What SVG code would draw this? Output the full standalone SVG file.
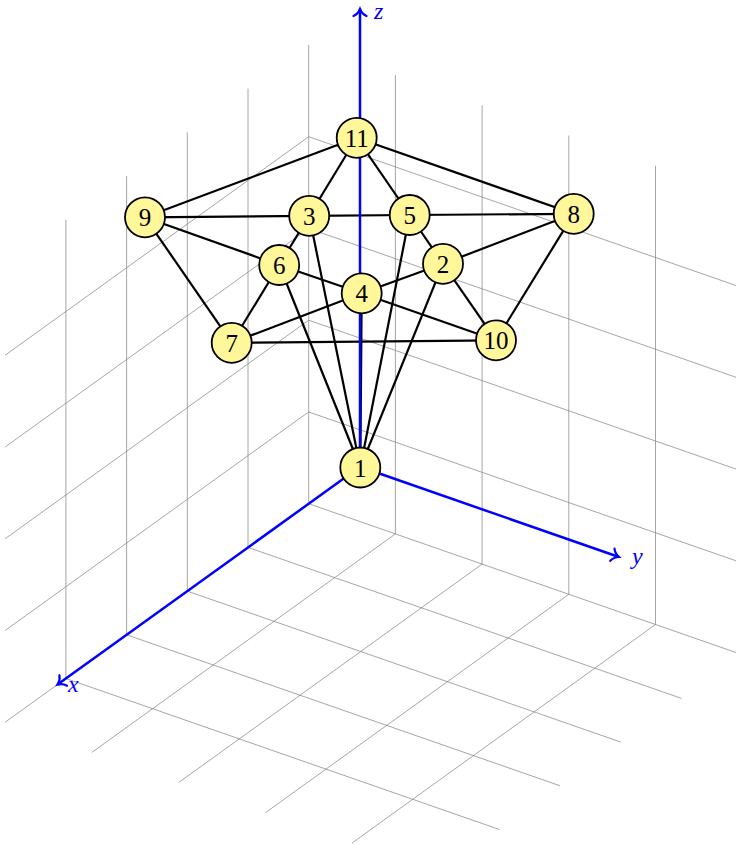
<svg xmlns="http://www.w3.org/2000/svg" width="736" height="845" viewBox="0 0 736 845">
<style>
.grid line{stroke:#808080;stroke-opacity:0.7;stroke-width:1;fill:none}
.edge{stroke:#000;stroke-width:2.2;fill:none}
.axis{stroke:#0000ff;stroke-width:2.5;fill:none;marker-end:url(#arr)}
.node circle{fill:#fff799;stroke:#000;stroke-width:1.8}
.node text{font-family:"Liberation Serif","DejaVu Serif",serif;font-size:25px;text-anchor:middle;fill:#000}
.lbl{font-family:"Liberation Serif","DejaVu Serif",serif;font-style:italic;font-size:24px;fill:#0000ff}
</style>
<defs>
<marker id="arr" markerUnits="userSpaceOnUse" markerWidth="20" markerHeight="20" viewBox="-10 -10 20 20" refX="0" refY="0" orient="auto" overflow="visible">
<path d="M-7,-6.5 C-5.5,-3 -2.5,-1 0,0 C-2.5,1 -5.5,3 -7,6.5" fill="none" stroke="#0000ff" stroke-width="2.2" stroke-linecap="round"/>
</marker>
</defs>
<rect width="736" height="845" fill="#fff"/>
<g id="grid" class="grid">
<line x1="308.7" y1="503.7" x2="742.2" y2="654.7"/>
<line x1="248" y1="547.4" x2="681.5" y2="698.4"/>
<line x1="187.3" y1="591.1" x2="620.8" y2="742.1"/>
<line x1="126.6" y1="634.8" x2="560.1" y2="785.8"/>
<line x1="65.9" y1="678.5" x2="499.4" y2="829.5"/>
<line x1="308.7" y1="503.7" x2="5.2" y2="722.2"/>
<line x1="395.4" y1="533.9" x2="91.9" y2="752.4"/>
<line x1="482.1" y1="564.1" x2="178.6" y2="782.6"/>
<line x1="568.8" y1="594.3" x2="265.3" y2="812.8"/>
<line x1="655.5" y1="624.5" x2="352" y2="843"/>
<line x1="308.7" y1="503.7" x2="308.7" y2="44.95"/>
<line x1="248" y1="547.4" x2="248" y2="88.65"/>
<line x1="187.3" y1="591.1" x2="187.3" y2="132.35"/>
<line x1="126.6" y1="634.8" x2="126.6" y2="176.05"/>
<line x1="65.9" y1="678.5" x2="65.9" y2="219.75"/>
<line x1="308.7" y1="411.95" x2="5.2" y2="630.45"/>
<line x1="308.7" y1="320.2" x2="5.2" y2="538.7"/>
<line x1="308.7" y1="228.45" x2="5.2" y2="446.95"/>
<line x1="308.7" y1="136.7" x2="5.2" y2="355.2"/>
<line x1="395.4" y1="533.9" x2="395.4" y2="75.15"/>
<line x1="482.1" y1="564.1" x2="482.1" y2="105.35"/>
<line x1="568.8" y1="594.3" x2="568.8" y2="135.55"/>
<line x1="655.5" y1="624.5" x2="655.5" y2="165.75"/>
<line x1="308.7" y1="411.95" x2="742.2" y2="562.95"/>
<line x1="308.7" y1="320.2" x2="742.2" y2="471.2"/>
<line x1="308.7" y1="228.45" x2="742.2" y2="379.45"/>
<line x1="308.7" y1="136.7" x2="742.2" y2="287.7"/>
</g>
<g id="connectors">
<line class="edge" x1="356.7" y1="137.8" x2="145" y2="217.3"/>
<line class="edge" x1="356.7" y1="137.8" x2="309.2" y2="215.8"/>
<line class="edge" x1="356.7" y1="137.8" x2="409.7" y2="215"/>
<line class="edge" x1="356.7" y1="137.8" x2="573.7" y2="213.8"/>
<line class="edge" x1="145" y1="217.3" x2="309.2" y2="215.8"/>
<line class="edge" x1="145" y1="217.3" x2="279.2" y2="265"/>
<line class="edge" x1="145" y1="217.3" x2="231.7" y2="342.8"/>
<line class="edge" x1="309.2" y1="215.8" x2="409.7" y2="215"/>
<line class="edge" x1="309.2" y1="215.8" x2="279.2" y2="265"/>
<line class="edge" x1="309.2" y1="215.8" x2="360.3" y2="467.5"/>
<line class="edge" x1="409.7" y1="215" x2="573.7" y2="213.8"/>
<line class="edge" x1="409.7" y1="215" x2="443" y2="263.8"/>
<line class="edge" x1="409.7" y1="215" x2="360.3" y2="467.5"/>
<line class="edge" x1="573.7" y1="213.8" x2="443" y2="263.8"/>
<line class="edge" x1="573.7" y1="213.8" x2="496" y2="340.3"/>
<line class="edge" x1="279.2" y1="265" x2="361.7" y2="293.3"/>
<line class="edge" x1="279.2" y1="265" x2="231.7" y2="342.8"/>
<line class="edge" x1="279.2" y1="265" x2="360.3" y2="467.5"/>
<line class="edge" x1="443" y1="263.8" x2="361.7" y2="293.3"/>
<line class="edge" x1="443" y1="263.8" x2="496" y2="340.3"/>
<line class="edge" x1="443" y1="263.8" x2="360.3" y2="467.5"/>
<line class="edge" x1="361.7" y1="293.3" x2="231.7" y2="342.8"/>
<line class="edge" x1="361.7" y1="293.3" x2="496" y2="340.3"/>
<line class="edge" x1="361.7" y1="293.3" x2="360.3" y2="467.5"/>
<line class="edge" x1="231.7" y1="342.8" x2="496" y2="340.3"/>
</g>
<g id="axes">
<line class="axis" x1="360" y1="466.8" x2="57.5" y2="684.6"/>
<line class="axis" x1="360" y1="466.8" x2="619" y2="557"/>
<line class="axis" x1="360" y1="466.8" x2="360" y2="9"/>
<text class="lbl" x="68" y="692">x</text>
<text class="lbl" x="632" y="564">y</text>
<text class="lbl" x="374" y="19">z</text>
</g>
<g id="node1" class="node"><circle cx="360.3" cy="467.5" r="20"/><text x="360.3" y="476.5">1</text></g>
<g id="node2" class="node"><circle cx="443" cy="263.8" r="20"/><text x="443" y="272.8">2</text></g>
<g id="node3" class="node"><circle cx="309.2" cy="215.8" r="20"/><text x="309.2" y="224.8">3</text></g>
<g id="node4" class="node"><circle cx="361.7" cy="293.3" r="20"/><text x="361.7" y="302.3">4</text></g>
<g id="node5" class="node"><circle cx="409.7" cy="215" r="20"/><text x="409.7" y="224">5</text></g>
<g id="node6" class="node"><circle cx="279.2" cy="265" r="20"/><text x="279.2" y="274">6</text></g>
<g id="node7" class="node"><circle cx="231.7" cy="342.8" r="20"/><text x="231.7" y="351.8">7</text></g>
<g id="node8" class="node"><circle cx="573.7" cy="213.8" r="20"/><text x="573.7" y="222.8">8</text></g>
<g id="node9" class="node"><circle cx="145" cy="217.3" r="20"/><text x="145" y="226.3">9</text></g>
<g id="node10" class="node"><circle cx="496" cy="340.3" r="20"/><text x="496" y="349.3">10</text></g>
<g id="node11" class="node"><circle cx="356.7" cy="137.8" r="20"/><text x="356.7" y="146.8">11</text></g>
</svg>
